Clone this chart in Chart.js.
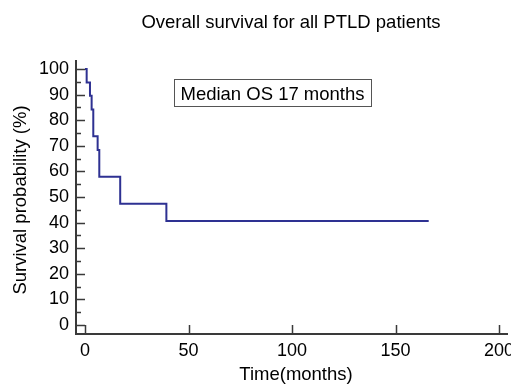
<!DOCTYPE html>
<html>
<head>
<meta charset="utf-8">
<script src="https://cdn.jsdelivr.net/npm/chart.js@4.4.1/dist/chart.umd.min.js"></script>
<style>
  html, body { margin: 0; padding: 0; background: #fff; }
  #wrap { width: 511px; height: 388px; }
</style>
</head>
<body>
<div id="wrap"><canvas id="km" width="511" height="388"></canvas></div>
<script>
  // Kaplan-Meier steps
  const months = [0, 0.8, 2.4, 3.2, 4.0, 6.1, 6.9, 17, 39.3, 166];
  const survival = [100, 94.7, 89.5, 84.2, 73.7, 68.4, 57.9, 47.4, 40.6, 40.6];
  const xTicks = [0, 50, 100, 150, 200];
  const yTicks = [0, 10, 20, 30, 40, 50, 60, 70, 80, 90, 100];

  const FONT = "'Liberation Sans', Arial, sans-serif";
  const AXIS = "#3a3a3a";

  // axes, inward ticks and the text around the plot
  const decor = {
    id: "decor",
    afterDraw(chart) {
      const { ctx, chartArea: a, scales } = chart;
      const xs = scales.x, ys = scales.y;
      ctx.save();
      ctx.strokeStyle = AXIS;
      ctx.lineWidth = 2;
      ctx.beginPath();
      ctx.moveTo(a.left, a.top);
      ctx.lineTo(a.left, a.bottom);
      ctx.lineTo(a.right, a.bottom);
      ctx.stroke();

      ctx.lineWidth = 1.5;
      ctx.beginPath();
      for (let v = 0; v <= 100; v += 5) {
        const py = Math.round(ys.getPixelForValue(v)) + 0.5;
        const len = v % 10 === 0 ? 9 : 5;
        ctx.moveTo(a.left, py);
        ctx.lineTo(a.left + len, py);
      }
      xTicks.forEach((v) => {
        const px = Math.round(xs.getPixelForValue(v)) + 0.5;
        ctx.moveTo(px, a.bottom);
        ctx.lineTo(px, a.bottom - 9);
      });
      ctx.stroke();

      ctx.fillStyle = "#000";
      ctx.textAlign = "center";
      ctx.textBaseline = "alphabetic";
      ctx.font = "18.5px " + FONT;
      ctx.fillText("Overall survival for all PTLD patients", 291, 28);
      ctx.fillText("Time(months)", 296, 380);
      ctx.save();
      ctx.translate(25.5, 200);
      ctx.rotate(-Math.PI / 2);
      ctx.fillText("Survival probability (%)", 0, 0);
      ctx.restore();

      // median label box
      ctx.fillText("Median OS 17 months", 272.5, 99.5);
      ctx.strokeStyle = "#555";
      ctx.lineWidth = 1;
      ctx.strokeRect(174.5, 79.5, 197, 27);
      ctx.restore();
    },
  };

  new Chart(document.getElementById("km"), {
    type: "scatter",
    data: {
      datasets: [
        {
          data: months.map((m, i) => ({ x: m, y: survival[i] })),
          showLine: true,
          stepped: true,
          borderColor: "#2e3192",
          borderWidth: 2,
          pointRadius: 0,
          fill: false,
        },
      ],
    },
    options: {
      responsive: false,
      animation: false,
      devicePixelRatio: 1,
      layout: { padding: { left: 0, top: 60, right: 3, bottom: 0 } },
      plugins: { legend: { display: false }, tooltip: { enabled: false }, title: { display: false } },
      scales: {
        x: {
          type: "linear",
          min: -4.35,
          max: 204.3,
          afterFit: (s) => { s.height = 54; s.paddingLeft = 0; s.paddingRight = 0; },
          afterBuildTicks: (s) => { s.ticks = xTicks.map((v) => ({ value: v })); },
          grid: { display: false, drawTicks: false },
          border: { display: false },
          ticks: { color: "#000", font: { family: FONT, size: 18 }, padding: 6, maxRotation: 0 },
        },
        y: {
          type: "linear",
          min: -3.5,
          max: 103.5,
          afterFit: (s) => { s.width = 76; s.paddingTop = 0; s.paddingBottom = 0; },
          afterBuildTicks: (s) => { s.ticks = yTicks.map((v) => ({ value: v })); },
          grid: { display: false, drawTicks: false },
          border: { display: false },
          ticks: { color: "#000", font: { family: FONT, size: 18 }, padding: 7 },
        },
      },
    },
    plugins: [decor],
  });
</script>
</body>
</html>
